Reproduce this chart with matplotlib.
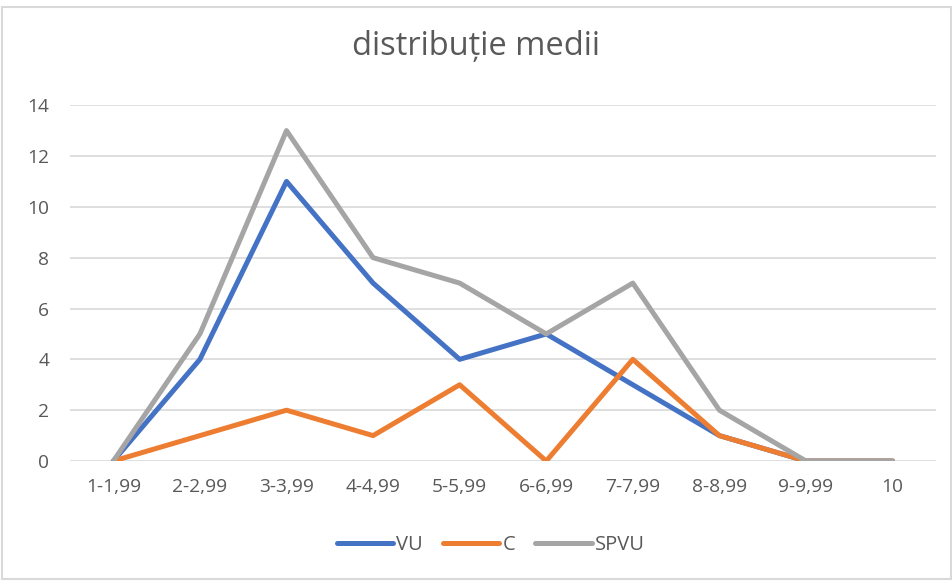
import matplotlib
matplotlib.use("Agg")
import matplotlib.pyplot as plt
from matplotlib.patches import Rectangle

plt.rcParams['font.family'] = ['Open Sans', 'DejaVu Sans']

# categories and series values
categories = ['1-1,99', '2-2,99', '3-3,99', '4-4,99', '5-5,99',
              '6-6,99', '7-7,99', '8-8,99', '9-9,99', '10']
vu = [0, 4, 11, 7, 4, 5, 3, 1, 0, 0]
c = [0, 1, 2, 1, 3, 0, 4, 1, 0, 0]
spvu = [0, 5, 13, 8, 7, 5, 7, 2, 0, 0]
y_ticks = [0, 2, 4, 6, 8, 10, 12, 14]

fig = plt.figure(figsize=(9.53, 5.81), dpi=100)
ax = fig.add_axes([0.0735, 0.2065, 0.9085, 0.6125])

x = list(range(len(categories)))
style = dict(linewidth=3.6, solid_capstyle='round', solid_joinstyle='round')
ax.plot(x, vu, color='#4472C4', label='VU', **style)
ax.plot(x, c, color='#ED7D31', label='C', **style)
ax.plot(x, spvu, color='#A5A5A5', label='SPVU', **style)

ax.set_xlim(-0.5, len(categories) - 0.5)
ax.set_ylim(0, 14)
ax.set_yticks(y_ticks)
ax.set_xticks(x)
ax.set_xticklabels(categories)
ax.tick_params(length=0, labelsize=13.8, labelcolor='#595959')
ax.tick_params(axis='x', pad=12)
ax.tick_params(axis='y', pad=15)
ax.grid(axis='y', color='#D9D9D9', linewidth=1.2)
ax.set_axisbelow(True)
for s in ax.spines.values():
    s.set_visible(False)

fig.suptitle('distribuție medii', y=0.948, fontsize=23.5, color='#595959')
fig.legend(loc='center', bbox_to_anchor=(0.515, 0.062), ncol=3, frameon=False,
           fontsize=14.5, labelcolor='#595959', handlelength=2.8,
           handletextpad=0.15, columnspacing=1.0)

# light frame of the chart area
fig.patches.append(Rectangle((0.002, 0.003), 0.996, 0.985, transform=fig.transFigure,
                             fill=False, edgecolor='#D9D9D9', linewidth=1.5))

fig.savefig('out.png', dpi=100)
